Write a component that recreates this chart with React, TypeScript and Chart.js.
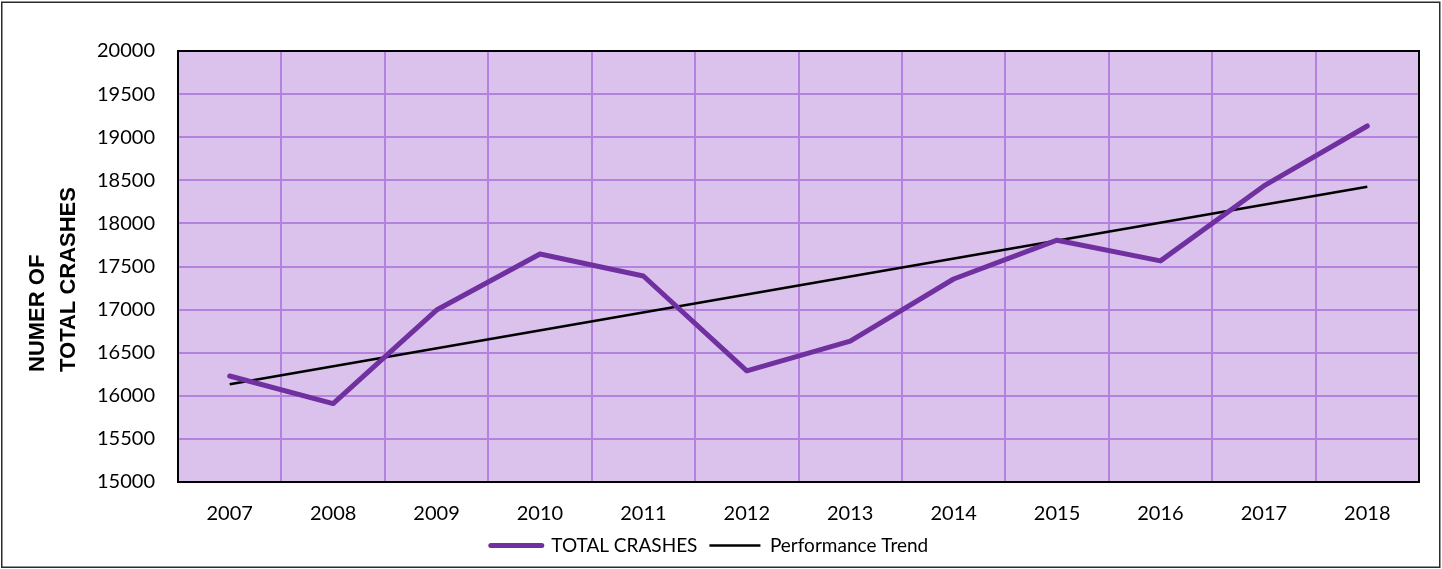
import React, { useEffect, useRef } from "react";
import { Chart, registerables } from "chart.js";

Chart.register(...registerables);

const years = ["2007", "2008", "2009", "2010", "2011", "2012", "2013", "2014", "2015", "2016", "2017", "2018"];
const totalCrashes = [16230, 15910, 16995, 17645, 17390, 16290, 16635, 17355, 17805, 17565, 18435, 19130];
const performanceTrend = [16135, null, null, null, null, null, null, null, null, null, null, 18425];
const yMin = 15000;
const yMax = 20000;
const yStep = 500;
const yTitleLines = ["NUMER OF", "TOTAL CRASHES"];

const PURPLE = "#7030A0";
const PLOT_BG = "#DAC2EC";
const GRID = "#B382DE";
const TICK_FONT = { family: "Lato", size: 20 };
const LEGEND_FONT = { family: "Lato", size: 19 };

const framePlugin = {
  id: "framePlugin",
  beforeDraw(chart: any) {
    const { ctx, chartArea } = chart;
    ctx.save();
    ctx.fillStyle = "#ffffff";
    ctx.fillRect(0, 0, chart.width, chart.height);
    ctx.fillStyle = PLOT_BG;
    ctx.fillRect(chartArea.left, chartArea.top, chartArea.right - chartArea.left, chartArea.bottom - chartArea.top);
    ctx.strokeStyle = "#2b2b2b";
    ctx.lineWidth = 1.5;
    ctx.strokeRect(1.75, 2.25, chart.width - 4, chart.height - 4);
    ctx.restore();
  },
  beforeDatasetsDraw(chart: any) {
    const { ctx, chartArea } = chart;
    ctx.save();
    ctx.strokeStyle = "#000000";
    ctx.lineWidth = 2;
    ctx.strokeRect(chartArea.left, chartArea.top, chartArea.right - chartArea.left, chartArea.bottom - chartArea.top);
    ctx.restore();
  },
  afterDraw(chart: any) {
    const { ctx } = chart;
    ctx.save();
    ctx.font = 'bold 22px "Liberation Sans", Arial, sans-serif';
    ctx.fillStyle = "#000000";
    ctx.textAlign = "left";
    ctx.textBaseline = "middle";
    const xs = [38, 69];
    yTitleLines.forEach((line, i) => {
      ctx.save();
      ctx.translate(xs[i], 372);
      ctx.rotate(-Math.PI / 2);
      ctx.fillText(line, 0, 0);
      ctx.restore();
    });
    ctx.restore();
  },
};

export default function App() {
  const ref = useRef<HTMLCanvasElement | null>(null);

  useEffect(() => {
    if (!ref.current) return;
    const chart = new Chart(ref.current, {
      type: "line",
      data: {
        labels: years,
        datasets: [
          {
            label: "TOTAL CRASHES",
            data: totalCrashes,
            borderColor: PURPLE,
            backgroundColor: PURPLE,
            borderWidth: 5,
            borderCapStyle: "round",
            borderJoinStyle: "round",
            pointRadius: 0,
            tension: 0,
          },
          {
            label: "Performance Trend",
            data: performanceTrend,
            borderColor: "#000000",
            backgroundColor: "#000000",
            borderWidth: 2.5,
            pointRadius: 0,
            spanGaps: true,
            tension: 0,
          },
        ],
      },
      options: {
        responsive: false,
        animation: false,
        layout: { padding: { top: 51, right: 23, left: 0, bottom: 4 } },
        plugins: {
          title: { display: false },
          tooltip: { enabled: false },
          legend: {
            position: "bottom",
            labels: {
              font: LEGEND_FONT,
              color: "#000000",
              usePointStyle: true,
              pointStyleWidth: 51,
              padding: 12,
              generateLabels: (chart: any) =>
                chart.data.datasets.map((ds: any, i: number) => ({
                  text: ds.label,
                  fillStyle: ds.borderColor,
                  strokeStyle: ds.borderColor,
                  lineWidth: i === 0 ? 5 : 2.5,
                  lineCap: i === 0 ? "round" : "butt",
                  pointStyle: "line",
                  hidden: false,
                  datasetIndex: i,
                  fontColor: "#000000",
                })),
            },
          },
        },
        scales: {
          x: {
            offset: true,
            grid: { offset: true, color: GRID, lineWidth: 2, drawTicks: false },
            border: { display: false },
            ticks: { font: TICK_FONT, color: "#000000", padding: 20 },
            afterFit: (scale: any) => {
              scale.height = 42;
            },
          },
          y: {
            min: yMin,
            max: yMax,
            grid: { color: GRID, lineWidth: 2, drawTicks: false },
            border: { display: false },
            ticks: {
              stepSize: yStep,
              font: TICK_FONT,
              color: "#000000",
              padding: 23,
              callback: (v: any) => String(v),
            },
            afterFit: (scale: any) => {
              scale.width = 178;
            },
          },
        },
      },
      plugins: [framePlugin],
    });
    return () => chart.destroy();
  }, []);

  return (
    <div style={{ position: "fixed", left: 0, top: 0, width: 1442, height: 569 }}>
      <canvas ref={ref} width={1442} height={569} style={{ display: "block" }} />
    </div>
  );
}
